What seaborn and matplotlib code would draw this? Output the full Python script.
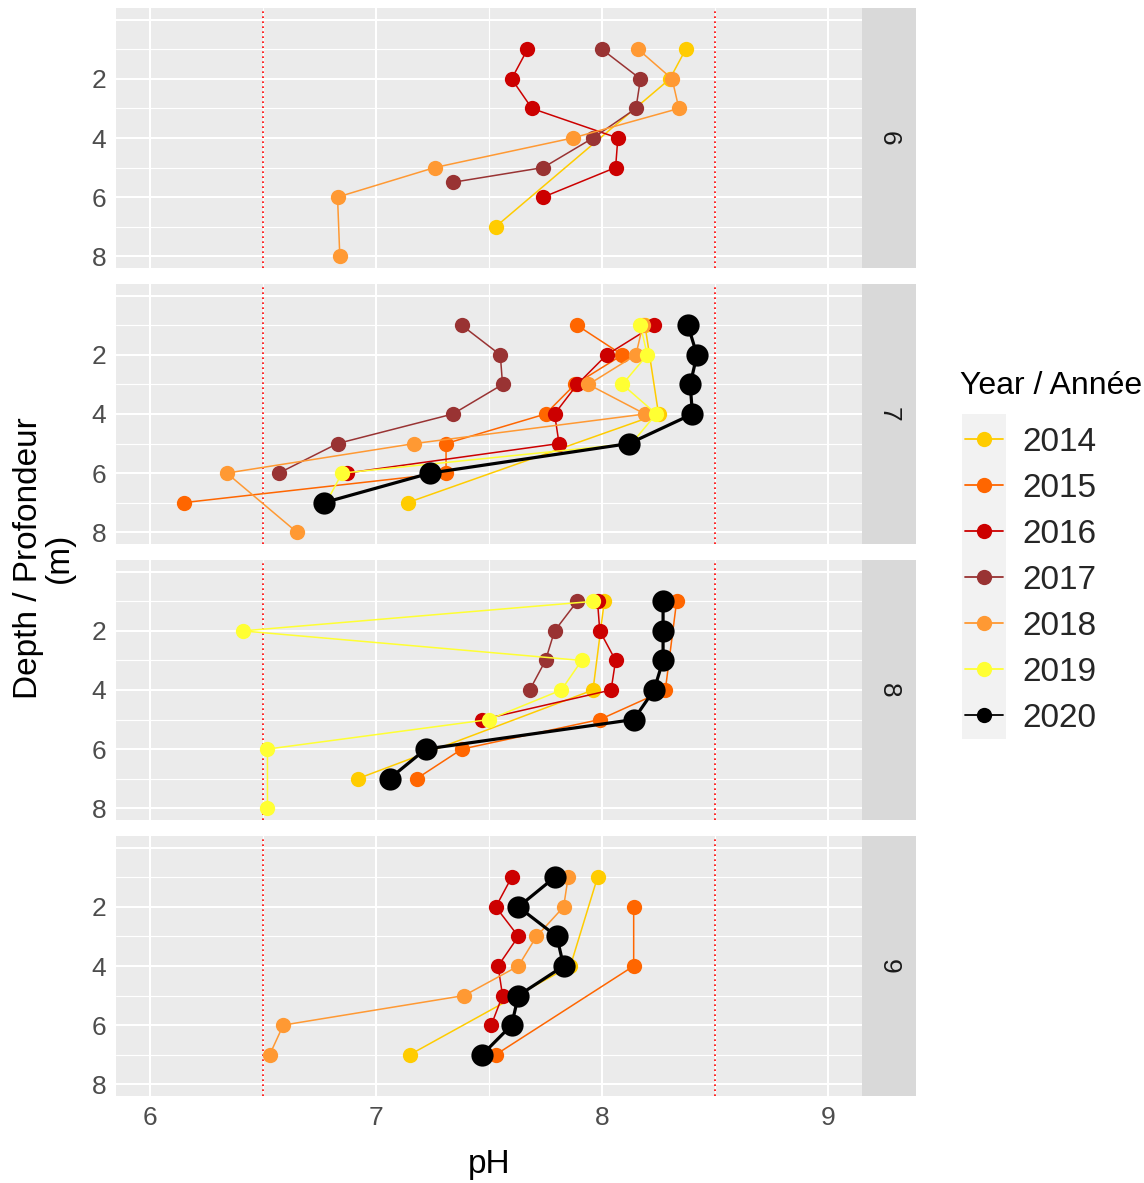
import matplotlib
matplotlib.use("Agg")
import matplotlib.pyplot as plt
import seaborn as sns
import pandas as pd
from matplotlib.lines import Line2D
from matplotlib.patches import Rectangle
from matplotlib.ticker import FixedLocator

# ---------------- data ----------------
years = [2014, 2015, 2016, 2017, 2018, 2019, 2020]
year_colors = ["#FFCC00", "#FF6600", "#CC0000", "#993333", "#FF9933", "#FFFF33", "#000000"]
stations = ["6", "7", "8", "9"]

s6_year = [2014]*3 + [2016]*6 + [2017]*6 + [2018]*7
s6_depth = [1, 2, 7,
            1, 2, 3, 4, 5, 6,
            1, 2, 3, 4, 5, 5.5,
            1, 2, 3, 4, 5, 6, 8]
s6_ph = [8.37, 8.30, 7.53,
         7.67, 7.60, 7.69, 8.07, 8.06, 7.74,
         8.00, 8.17, 8.15, 7.96, 7.74, 7.34,
         8.16, 8.31, 8.34, 7.87, 7.26, 6.83, 6.84]

s7_year = [2014]*3 + [2015]*7 + [2016]*6 + [2017]*6 + [2018]*7 + [2019]*7 + [2020]*7
s7_depth = [1, 4, 7,
            1, 2, 3, 4, 5, 6, 7,
            1, 2, 3, 4, 5, 6,
            1, 2, 3, 4, 5, 6,
            1, 2, 3, 4, 5, 6, 8,
            1, 2, 3, 4, 5, 6, 7,
            1, 2, 3, 4, 5, 6, 7]
s7_ph = [8.19, 8.25, 7.14,
         7.89, 8.09, 7.88, 7.75, 7.31, 7.31, 6.15,
         8.23, 8.02, 7.89, 7.79, 7.81, 6.87,
         7.38, 7.55, 7.56, 7.34, 6.83, 6.57,
         8.18, 8.15, 7.94, 8.19, 7.17, 6.34, 6.65,
         8.17, 8.20, 8.09, 8.24, 8.13, 6.85, 6.78,
         8.38, 8.42, 8.39, 8.40, 8.12, 7.24, 6.77]

s8_year = [2014]*3 + [2015]*5 + [2016]*5 + [2017]*4 + [2019]*7 + [2020]*7
s8_depth = [1, 4, 7,
            1, 4, 5, 6, 7,
            1, 2, 3, 4, 5,
            1, 2, 3, 4,
            1, 2, 3, 4, 5, 6, 8,
            1, 2, 3, 4, 5, 6, 7]
s8_ph = [8.01, 7.96, 6.92,
         8.33, 8.28, 7.99, 7.38, 7.18,
         7.98, 7.99, 8.06, 8.04, 7.47,
         7.89, 7.79, 7.75, 7.68,
         7.96, 6.41, 7.91, 7.82, 7.50, 6.52, 6.52,
         8.27, 8.27, 8.27, 8.23, 8.14, 7.22, 7.06]

s9_year = [2014]*3 + [2015]*3 + [2016]*6 + [2018]*7 + [2020]*7
s9_depth = [1, 4, 7,
            2, 4, 7,
            1, 2, 3, 4, 5, 6,
            1, 2, 3, 4, 5, 6, 7,
            1, 2, 3, 4, 5, 6, 7]
s9_ph = [7.98, 7.86, 7.15,
         8.14, 8.14, 7.53,
         7.60, 7.53, 7.63, 7.54, 7.56, 7.51,
         7.85, 7.83, 7.71, 7.63, 7.39, 6.59, 6.53,
         7.79, 7.63, 7.80, 7.83, 7.63, 7.60, 7.47]

x_ticks = [6, 7, 8, 9]
y_ticks = [2, 4, 6, 8]
ref_lines = [6.5, 8.5]

frames = []
for st, yr, dp, ph in [("6", s6_year, s6_depth, s6_ph), ("7", s7_year, s7_depth, s7_ph),
                       ("8", s8_year, s8_depth, s8_ph), ("9", s9_year, s9_depth, s9_ph)]:
    frames.append(pd.DataFrame({"station": st, "year": yr, "depth": dp, "ph": ph}))
df = pd.concat(frames, ignore_index=True)

# ---------------- style ----------------
sns.set_theme(style="darkgrid")
plt.rcParams["font.family"] = ["Liberation Sans", "DejaVu Sans"]

W, H = 1144, 1183
fig = plt.figure(figsize=(W / 100, H / 100), dpi=100)

panel_left, panel_right = 116, 862
strip_w = 54
panel_tops = [8, 284, 560, 836]
panel_h = 260
color_map = dict(zip(years, year_colors))
tick_fs = 19

for i, (st, top) in enumerate(zip(stations, panel_tops)):
    ax = fig.add_axes([panel_left / W, 1 - (top + panel_h) / H,
                       (panel_right - panel_left) / W, panel_h / H])
    ax.set_facecolor("#EBEBEB")
    for s in ax.spines.values():
        s.set_visible(False)
    ax.set_xlim(5.85, 9.15)
    ax.set_ylim(8.4, -0.4)
    ax.xaxis.set_major_locator(FixedLocator(x_ticks))
    ax.xaxis.set_minor_locator(FixedLocator([6.5, 7.5, 8.5]))
    ax.yaxis.set_major_locator(FixedLocator(y_ticks))
    ax.yaxis.set_minor_locator(FixedLocator([1, 3, 5, 7]))
    ax.grid(which="major", color="white", linewidth=1.5)
    ax.grid(which="minor", color="white", linewidth=0.8)
    ax.axhline(0, color="white", linewidth=1.5, zorder=0.5)
    ax.set_axisbelow(True)
    ax.tick_params(axis="y", which="major", length=4, width=1.1, color="#333333",
                   labelsize=tick_fs, labelcolor="#4D4D4D", pad=3)
    ax.tick_params(which="minor", length=0)
    if i == len(stations) - 1:
        ax.tick_params(axis="x", which="major", length=4, width=1.1, color="#333333",
                       labelsize=tick_fs, labelcolor="#4D4D4D", pad=3)
    else:
        ax.tick_params(axis="x", which="major", length=0, labelbottom=False)

    for v in ref_lines:
        ax.axvline(v, color="#FF0000", linestyle=(0, (1, 2)), linewidth=1.2, zorder=1)

    sub = df[df["station"] == st]
    for yr in years:
        d = sub[sub["year"] == yr]
        if d.empty:
            continue
        big = yr == 2020
        sns.lineplot(data=d, x="ph", y="depth", sort=False, estimator=None,
                     color=color_map[yr], marker="o",
                     markersize=16 if big else 11, markeredgewidth=0,
                     linewidth=2.3 if big else 1.1, ax=ax, legend=False, zorder=3)
    ax.set_xlabel("")
    ax.set_ylabel("")

    sax = fig.add_axes([panel_right / W, 1 - (top + panel_h) / H, strip_w / W, panel_h / H])
    sax.set_facecolor("#D9D9D9")
    sax.set_xticks([]); sax.set_yticks([])
    sax.grid(False)
    for s in sax.spines.values():
        s.set_visible(False)
    sax.text(0.5, 0.5, st, rotation=-90, ha="center", va="center",
             fontsize=tick_fs, color="#1A1A1A", transform=sax.transAxes)

fig.text((panel_left + panel_right) / 2 / W, 1 - 1164 / H, "pH", ha="center", va="center",
         fontsize=24, color="black")
fig.text(44 / W, 1 - 558 / H, "Depth / Profondeur\n(m)", ha="center", va="center",
         rotation=90, fontsize=24, color="black", multialignment="center", linespacing=1.0)

# legend
fig.patches.append(Rectangle((962 / W, 1 - 739 / H), 44 / W, 325 / H,
                             transform=fig.transFigure, facecolor="#F2F2F2",
                             edgecolor="none", zorder=0))
fig.text(960 / W, 1 - 386 / H, "Year / Année", ha="left", va="center",
         fontsize=23, color="black")
handles = [Line2D([], [], color=c, marker="o", markersize=11, markeredgewidth=0, linewidth=1.3)
           for c in year_colors]
leg = fig.legend(handles, [str(y) for y in years], loc="upper left",
                 bbox_to_anchor=(965 / W, 1 - 427 / H), frameon=False,
                 fontsize=24, handlelength=1.14, handletextpad=0.57, labelspacing=0.45,
                 borderpad=0, borderaxespad=0)

fig.savefig("out.png", dpi=100)
